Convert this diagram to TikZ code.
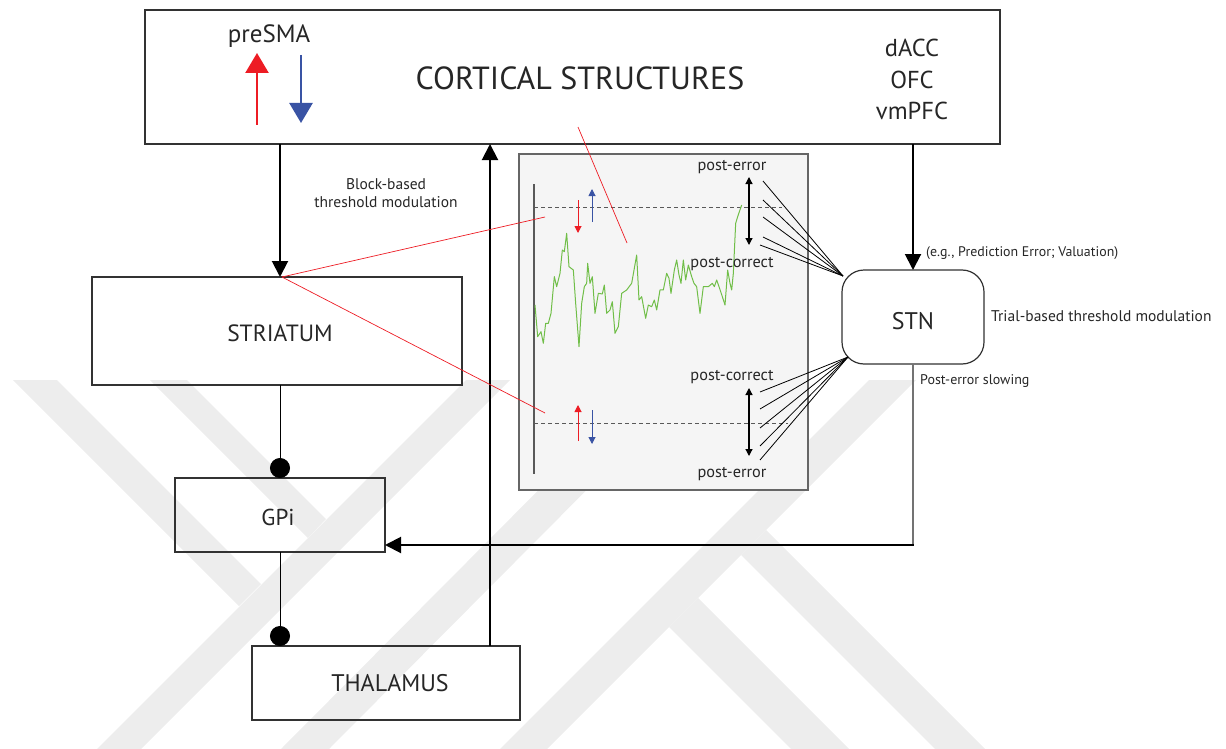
\documentclass[tikz,border=0pt]{standalone}
\usepackage{fontspec}
\setmainfont{PT Sans}
\usetikzlibrary{arrows.meta}
\definecolor{myred}{RGB}{237,28,36}
\definecolor{myblue}{RGB}{57,83,164}
\definecolor{mygreen}{RGB}{112,190,72}
\definecolor{boxline}{RGB}{50,50,50}
\definecolor{panelfill}{RGB}{245,245,245}
\definecolor{wm}{RGB}{237,237,237}
\begin{document}
\begin{tikzpicture}[x=1pt,y=-1pt,
  box/.style={draw=boxline,line width=1.2pt,inner sep=0pt,outer sep=0pt},
  arr/.style={line width=2pt,-{Triangle[length=16pt,width=16pt]}},
  inh/.style={line width=1pt,-{Circle[length=20pt]}},
  redln/.style={draw=myred,line width=0.7pt},
  fan/.style={line width=0.8pt},
  smallarr/.style={line width=1pt,-{Triangle[length=7pt,width=7pt]}},
  dbl/.style={line width=1.2pt,{Triangle[length=7pt,width=7pt]}-{Triangle[length=7pt,width=7pt]}},
  thrline/.style={draw=black!65,line width=0.9pt,dash pattern=on 4pt off 3pt},
  lbl/.style={inner sep=0pt,text=black!85},
  wmband/.style={fill=wm,draw=none}
]
\useasboundingbox (0,0) rectangle (1226,749);

% faint watermark
\begin{scope}
\clip (0,380) rectangle (1226,749);
\fill[wmband] (13,380) -- (57,380) -- (261,584) -- (239,606) -- cycle;
\fill[wmband] (466,380) -- (510,380) -- (141,749) -- (97,749) -- cycle;
\fill[wmband] (150,380) -- (187,380) -- (326,519) -- (308,538) -- cycle;
\fill[wmband] (648,380) -- (696,380) -- (329,749) -- (281,749) -- cycle;
\fill[wmband] (869,380) -- (916,380) -- (547,749) -- (500,749) -- cycle;
\fill[wmband] (766,530) -- (985,749) -- (935,749) -- (741,555) -- cycle;
\fill[wmband] (698,598) -- (849,749) -- (791,749) -- (669,627) -- cycle;
\end{scope}

% boxes
\node[box,minimum width=855pt,minimum height=134pt] (cort) at (572.5,77) {};
\node[box,minimum width=370pt,minimum height=108pt] (str) at (277,331) {};
\node[box,minimum width=210pt,minimum height=74pt] (gpi) at (280,515) {};
\node[box,minimum width=268pt,minimum height=74pt] (thal) at (386,683) {};
\node[box,fill=white,rounded corners=22pt,minimum width=142pt,minimum height=94pt] (stn) at (913,317) {};
\node[draw=black!60,line width=1.2pt,fill=panelfill,inner sep=0pt,minimum width=289pt,minimum height=336pt] (panel) at (663.5,322) {};

% box labels
\node[lbl,font=\fontsize{32}{38}\selectfont] (ctitle) at (580,78) {CORTICAL STRUCTURES};
\node[lbl,font=\fontsize{25}{30}\selectfont] (presma) at (269,36) {preSMA};
\node[lbl,font=\fontsize{24.5}{29}\selectfont] (dacc) at (912,48) {dACC};
\node[lbl,font=\fontsize{24.5}{29}\selectfont] (ofc) at (912,80) {OFC};
\node[lbl,font=\fontsize{24.5}{29}\selectfont] (vmpfc) at (912,111) {vmPFC};
\node[lbl,font=\fontsize{23.5}{28}\selectfont] (strl) at (280,333) {STRIATUM};
\node[lbl,font=\fontsize{23}{28}\selectfont] (gpil) at (278,517) {GPi};
\node[lbl,font=\fontsize{24}{28}\selectfont] (thall) at (390,683) {THALAMUS};
\node[lbl,font=\fontsize{24}{28}\selectfont] (stnl) at (913,321) {STN};

% preSMA arrows
\coordinate (ru0) at (257,125); \coordinate (ru1) at (257,53);
\coordinate (bd0) at (301,55); \coordinate (bd1) at (301,123);
\draw[draw=myred,line width=2.5pt,-{Triangle[length=20pt,width=23pt]}] (ru0) -- (ru1);
\draw[draw=myblue,line width=2.5pt,-{Triangle[length=20pt,width=23pt]}] (bd0) -- (bd1);

% annotations
\node[lbl,font=\fontsize{15.5}{18}\selectfont,align=center] (block) at (386,193) {Block-based\\threshold modulation};
\node[lbl,font=\fontsize{13.9}{16}\selectfont,anchor=west] (eg) at (926,253) {(e.g., Prediction Error; Valuation)};
\node[lbl,font=\fontsize{15.5}{18}\selectfont,anchor=west] (trial) at (991,316) {Trial-based threshold modulation};
\node[lbl,font=\fontsize{14}{17}\selectfont,anchor=west] (pes) at (920,381) {Post-error slowing};

% main connectors
\draw[arr] (cort.south -| 280,0) -- (str.north -| 280,0);
\draw[arr] (thal.north -| 490,0) -- (cort.south -| 490,0);
\draw[arr] (cort.south -| stn.north) -- (stn.north);
\coordinate (gpin) at (385,545);
\coordinate (stncorner) at (stn.south |- gpin);
\draw[draw=black!55,line width=1.6pt] (stn.south) -- (stncorner);
\draw[arr,line cap=rect] (stncorner) -- (gpin);
\draw[inh] (str.south -| gpi.north) -- (gpi.north);
\draw[inh] (gpi.south) -- (gpi.south |- thal.north);

% panel contents
\draw[draw=black!65,line width=2pt] (534,184) -- (534,474);
\draw[thrline] (534,207) -- (782,207);
\draw[thrline] (534,423) -- (788,423);

\begin{scope}[shift={(515,150)},scale=0.33333]
\draw[draw=mygreen,line width=1pt,line join=round]
 (60,465)--(68,560)--(78,545)--(85,580)--(92,520)--(100,520)--(108,490)--(118,380)--(125,410)--(135,370)--(142,300)--(148,305)--(155,250)--(162,350)--(175,360)--(182,460)--(192,590)--(200,460)--(208,410)--(215,400)--(218,340)--(225,400)--(232,380)--(240,490)--(250,430)--(262,432)--(268,405)--(275,490)--(285,480)--(292,455)--(300,550)--(310,530)--(320,430)--(335,420)--(350,400)--(365,315)--(372,450)--(380,440)--(392,505)--(400,465)--(410,470)--(418,450)--(425,480)--(435,420)--(445,420)--(455,370)--(462,385)--(468,430)--(478,360)--(485,330)--(492,375)--(498,400)--(505,330)--(512,390)--(520,345)--(530,380)--(537,400)--(545,410)--(555,490)--(565,410)--(580,410)--(592,400)--(598,410)--(605,390)--(612,410)--(622,440)--(630,465)--(638,360)--(645,400)--(650,420)--(655,370)--(662,220)--(668,200)--(680,165);
\end{scope}

% small arrows in panel
\draw[smallarr,draw=myred] (578,200) -- (578,233);
\draw[smallarr,draw=myblue] (592,222) -- (592,189);
\draw[smallarr,draw=myred] (578,441) -- (578,405);
\draw[smallarr,draw=myblue] (592,410) -- (592,444);

% double arrows
\draw[dbl] (749,177) -- (749,245);
\draw[dbl] (749,388) -- (749,456);

% panel labels
\node[lbl,font=\fontsize{16.3}{19}\selectfont] (pe1) at (732,167) {post-error};
\node[lbl,font=\fontsize{16.3}{19}\selectfont] (pc1) at (732,264) {post-correct};
\node[lbl,font=\fontsize{16.3}{19}\selectfont] (pc2) at (732,377) {post-correct};
\node[lbl,font=\fontsize{16.3}{19}\selectfont] (pe2) at (732,474) {post-error};

% red projection lines
\coordinate (sttop) at (282,277);
\coordinate (thrU) at (545,217);
\coordinate (thrL) at (545,413);
\coordinate (cx0) at (578,127);
\coordinate (cx1) at (627,243);
\draw[redln] (sttop) -- (thrU);
\draw[redln] (sttop) -- (thrL);
\draw[redln] (cx0) -- (cx1);

% fan lines
\coordinate (fanU) at (843,276);
\coordinate (fanL) at (848,357);
\foreach \y in {181,200,217,237} \draw[fan] (fanU) -- (763,\y);
\draw[fan] (fanU) -- (760,245);
\foreach \y in {392,409,428,446,460} \draw[fan] (fanL) -- (760,\y);
\end{tikzpicture}
\end{document}
